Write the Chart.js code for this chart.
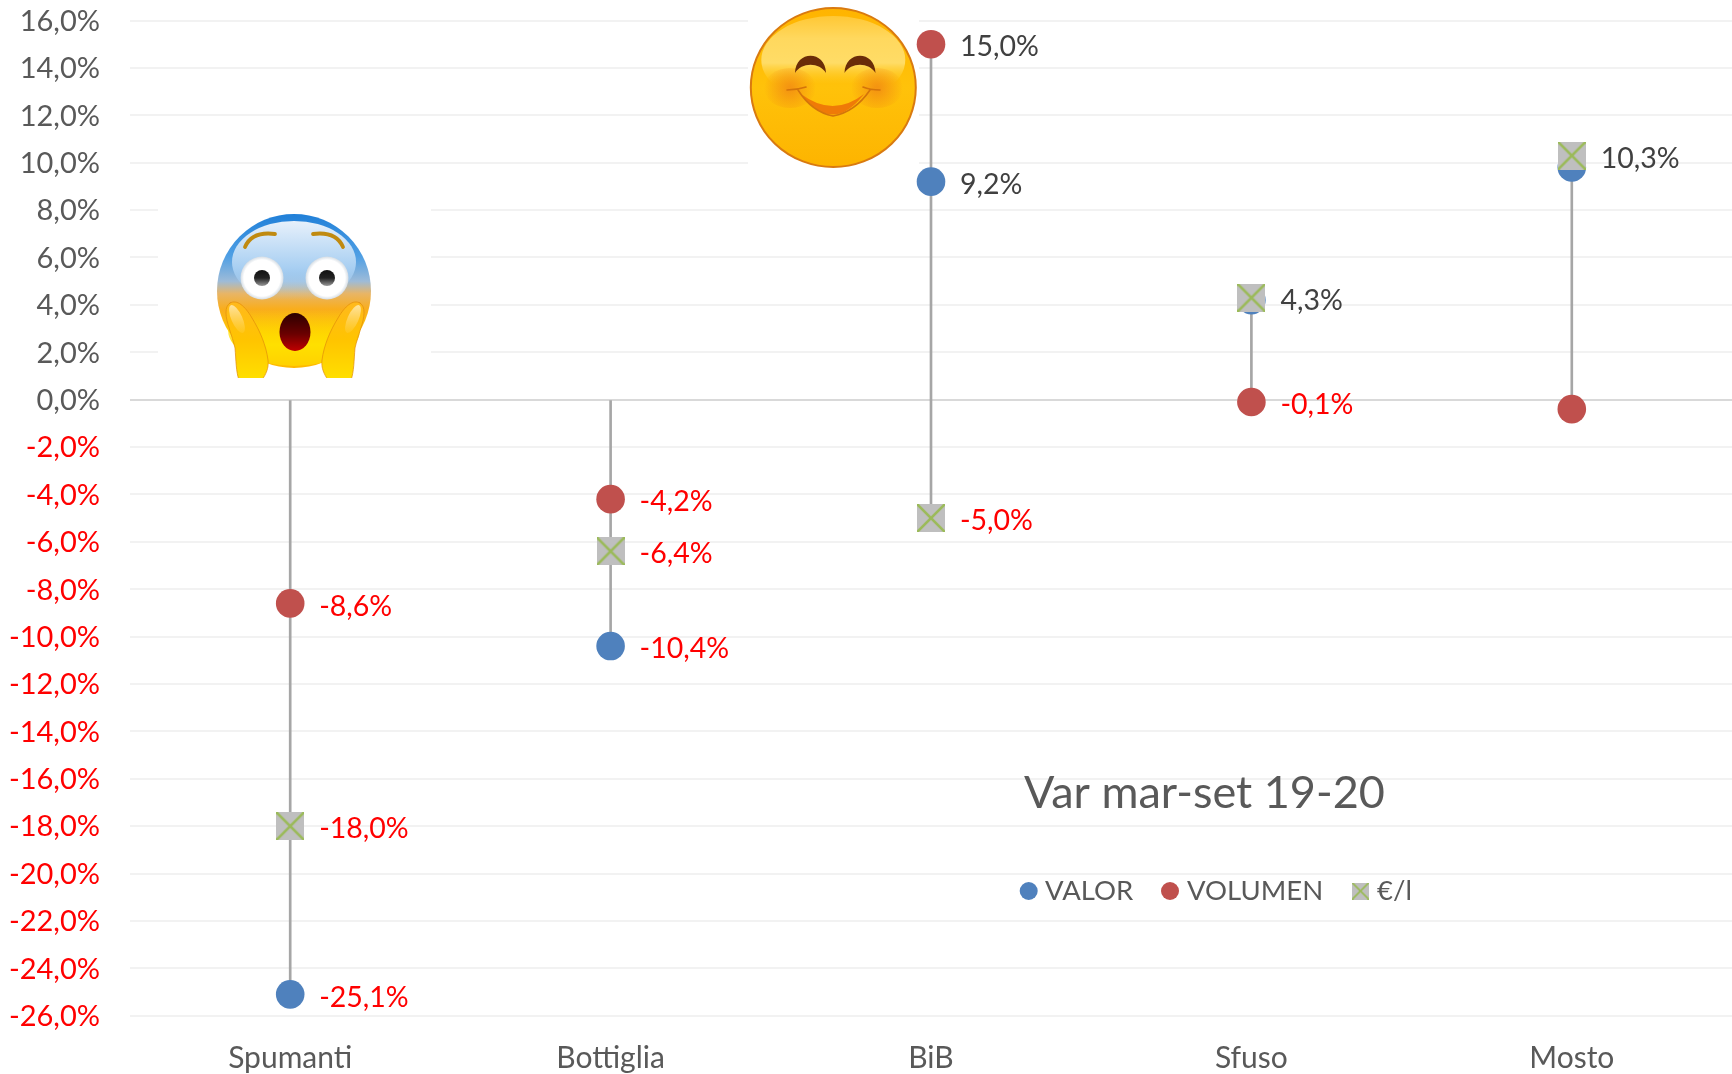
<!DOCTYPE html>
<html><head><meta charset="utf-8">
<style>html,body{margin:0;padding:0;background:#fff}canvas{display:block}</style>
<script src="https://cdn.jsdelivr.net/npm/chart.js@4"></script>
</head><body>
<canvas id="c" width="1732" height="1074"></canvas>
<script>
const categories = ['Spumanti','Bottiglia','BiB','Sfuso','Mosto'];
const valor   = [-25.1,-10.4, 9.2, 4.2, 9.8];
const volumen = [-8.6, -4.2, 15.0,-0.1,-0.4];
const euroL   = [-18.0,-6.4, -5.0, 4.3,10.3];
const stems   = [[-25.1,0],[-10.4,0],[-5,15],[-0.1,4.3],[-0.4,10.3]];
const valorLabelled   = [true,true,true,false,false];
const volumenLabelled = [true,true,true,true,false];
const euroLabelled    = [true,true,true,true,true];
const seriesNames = ['VALOR','VOLUMEN','€/l'];
const chartTitle = 'Var mar-set 19-20';

const FONT = 'Lato';
const GREY = '#595959', DARK = '#404040', RED = '#ff0000';
const BLUE = '#4f81bd', BRICK = '#c0504d', SQ = '#bfbfbf', GREEN = '#9bbb59';
const fmt = v => v.toFixed(1).replace('.',',') + '%';

function crossSquare(side){
  const k = document.createElement('canvas'); k.width = side; k.height = side;
  const g = k.getContext('2d');
  g.fillStyle = SQ; g.fillRect(0,0,side,side);
  g.strokeStyle = GREEN; g.lineWidth = side > 20 ? 2.6 : 1.8;
  g.beginPath(); g.moveTo(0,0); g.lineTo(side,side); g.moveTo(side,0); g.lineTo(0,side); g.stroke();
  return k;
}
const sqMark = crossSquare(28), sqLegend = crossSquare(17);

function scared(ctx){
  ctx.save();
  ctx.fillStyle='#fff'; ctx.fillRect(158,195,273,183);
  ctx.beginPath(); ctx.rect(158,195,273,183); ctx.clip();
  const cx=294, cy=291, r=77;
  let g=ctx.createLinearGradient(0,213,0,368);
  g.addColorStop(0,'#1f7fd8'); g.addColorStop(.28,'#4f9fe4'); g.addColorStop(.44,'#9dbbd8');
  g.addColorStop(.52,'#e8b566'); g.addColorStop(.62,'#f9ad1c'); g.addColorStop(.8,'#ffcc00'); g.addColorStop(1,'#ffb800');
  ctx.fillStyle=g; ctx.beginPath(); ctx.arc(cx,cy,r,0,Math.PI*2); ctx.fill();
  g=ctx.createLinearGradient(0,220,0,300);
  g.addColorStop(0,'#e8f1fb'); g.addColorStop(.6,'#a8cff2'); g.addColorStop(1,'rgba(168,207,242,0)');
  ctx.fillStyle=g; ctx.beginPath(); ctx.ellipse(cx,262,62,41,0,0,Math.PI*2); ctx.fill();
  g=ctx.createLinearGradient(0,310,0,368);
  g.addColorStop(0,'rgba(255,214,0,0)'); g.addColorStop(.6,'#ffe000'); g.addColorStop(1,'#ffd000');
  ctx.fillStyle=g; ctx.beginPath(); ctx.ellipse(cx,330,66,36,0,0,Math.PI*2); ctx.fill();
  // brows
  ctx.strokeStyle='#c08a10'; ctx.lineWidth=3.8; ctx.lineCap='round';
  ctx.beginPath(); ctx.moveTo(245,247); ctx.quadraticCurveTo(252,231,275,234); ctx.stroke();
  ctx.beginPath(); ctx.moveTo(343,247); ctx.quadraticCurveTo(336,231,313,234); ctx.stroke();
  // eyes
  [262,327].forEach(x=>{
    g=ctx.createRadialGradient(x,278,8,x,278,22);
    g.addColorStop(0,'#ffffff'); g.addColorStop(.72,'#ffffff'); g.addColorStop(1,'#cfd8e0');
    ctx.fillStyle=g; ctx.beginPath(); ctx.arc(x,278,21.5,0,Math.PI*2); ctx.fill();
    g=ctx.createLinearGradient(0,270,0,286);
    g.addColorStop(0,'#111'); g.addColorStop(.5,'#222'); g.addColorStop(1,'#999');
    ctx.fillStyle=g; ctx.beginPath(); ctx.arc(x,278,8,0,Math.PI*2); ctx.fill();
  });
  // mouth
  g=ctx.createLinearGradient(0,313,0,351);
  g.addColorStop(0,'#2c0000'); g.addColorStop(.55,'#6a0000'); g.addColorStop(1,'#c00000');
  ctx.fillStyle=g; ctx.beginPath(); ctx.ellipse(295,332,15.5,19,0,0,Math.PI*2); ctx.fill();
  // hands
  [1,-1].forEach(m=>{
    ctx.save();
    ctx.translate(295,0); ctx.scale(m,1); ctx.translate(-295,0);
    const hand=new Path2D('M230 303 C237 299 245 306 252 318 C260 331 266 345 268 360 C269 368 266 374 262 380 L239 380 C236 372 236 360 235 348 C232 335 226 322 226 313 C226 308 227 305 230 303 Z');
    g=ctx.createLinearGradient(0,300,0,380);
    g.addColorStop(0,'#ffb81e'); g.addColorStop(.5,'#ffc400'); g.addColorStop(1,'#ffe000');
    ctx.fillStyle=g; ctx.fill(hand);
    ctx.strokeStyle='rgba(225,140,10,.7)'; ctx.lineWidth=1; ctx.stroke(hand);
    g=ctx.createLinearGradient(0,304,0,340);
    g.addColorStop(0,'rgba(255,232,170,.95)'); g.addColorStop(1,'rgba(255,215,90,0)');
    ctx.fillStyle=g;
    ctx.beginPath(); ctx.ellipse(237,319,5.5,15,-0.42,0,Math.PI*2); ctx.fill();
    ctx.restore();
  });
  ctx.restore();
}

function smiley(ctx){
  ctx.save();
  ctx.fillStyle='#fff'; ctx.fillRect(748,0,171,172);
  const cx=833.3, cy=87.5, rx=82.5, ry=79.5;
  ctx.beginPath(); ctx.ellipse(cx,cy,rx,ry,0,0,Math.PI*2);
  let g=ctx.createLinearGradient(0,8,0,167);
  g.addColorStop(0,'#ffb400'); g.addColorStop(.5,'#ffc20a'); g.addColorStop(1,'#fdb400');
  ctx.fillStyle=g; ctx.fill();
  ctx.lineWidth=2; ctx.strokeStyle='#d97a10'; ctx.stroke();
  g=ctx.createLinearGradient(0,14,0,84);
  g.addColorStop(0,'#ffc631'); g.addColorStop(.35,'#ffd85e'); g.addColorStop(.7,'#ffdc66'); g.addColorStop(1,'rgba(255,205,40,0)');
  ctx.fillStyle=g; ctx.beginPath(); ctx.ellipse(cx,60,72,44,0,0,Math.PI*2); ctx.fill();
  // cheeks
  [790,877].forEach(x=>{
    g=ctx.createRadialGradient(x,88,2,x,88,26);
    g.addColorStop(0,'rgba(240,130,20,.7)'); g.addColorStop(1,'rgba(240,130,20,0)');
    ctx.fillStyle=g; ctx.beginPath(); ctx.ellipse(x,88,26,20,0,0,Math.PI*2); ctx.fill();
  });
  // eyes
  [810.5,860].forEach(x=>{
    ctx.beginPath();
    ctx.moveTo(x-15.5,73); ctx.bezierCurveTo(x-15,50,x+15,50,x+15.5,73);
    ctx.bezierCurveTo(x+9,62,x-9,62,x-15.5,73); ctx.closePath();
    ctx.fillStyle='#6a2c08'; ctx.fill();
  });
  // smile
  ctx.beginPath(); ctx.moveTo(801,94); ctx.quadraticCurveTo(833,135,864,94);
  ctx.quadraticCurveTo(833,118,801,94); ctx.closePath();
  ctx.fillStyle='#ef7a07'; ctx.fill();
  ctx.strokeStyle='#d4740a'; ctx.lineWidth=1.6; ctx.lineCap='round';
  ctx.beginPath(); ctx.moveTo(787,90); ctx.quadraticCurveTo(797,90,806,87); ctx.moveTo(798,90); ctx.quadraticCurveTo(812,112,833,116);
  ctx.moveTo(880,90); ctx.quadraticCurveTo(870,90,863,87); ctx.moveTo(870,90); ctx.quadraticCurveTo(855,112,833,116); ctx.stroke();
  ctx.restore();
}

const overlay = {
  id:'overlay',
  beforeDatasetsDraw(chart){ scared(chart.ctx); smiley(chart.ctx); },
  afterDatasetsDraw(chart){
    const ctx = chart.ctx;
    const y = chart.scales.y, x = chart.scales.x;
    const sets = [[valor,valorLabelled],[volumen,volumenLabelled],[euroL,euroLabelled]];
    ctx.save();
    ctx.font = '28.5px '+FONT; ctx.textBaseline='middle'; ctx.textAlign='left';
    sets.forEach(([vals,show])=>vals.forEach((v,i)=>{
      if(!show[i]) return;
      ctx.fillStyle = v<0 ? RED : DARK;
      ctx.fillText(fmt(v), x.getPixelForValue(i)+29, y.getPixelForValue(v)+3);
    }));
    // title
    ctx.fillStyle=GREY; ctx.font='45px '+FONT; ctx.textBaseline='alphabetic';
    ctx.fillText(chartTitle,1024,808);
    // legend
    ctx.font='27.5px '+FONT; ctx.textBaseline='middle';
    ctx.fillStyle=BLUE; ctx.beginPath(); ctx.arc(1028.7,891,9,0,Math.PI*2); ctx.fill();
    ctx.fillStyle=BRICK; ctx.beginPath(); ctx.arc(1170,891,9,0,Math.PI*2); ctx.fill();
    ctx.drawImage(sqLegend,1352,882.5);
    ctx.fillStyle=GREY;
    ctx.fillText(seriesNames[0],1045,891);
    ctx.fillText(seriesNames[1],1187,891);
    ctx.fillText(seriesNames[2],1377,891);
    ctx.restore();
  }
};

new Chart(document.getElementById('c'),{
  type:'bar',
  data:{labels:categories,datasets:[
    {type:'bar',label:'range',data:stems,backgroundColor:'#a6a6a6',barThickness:2,order:4},
    {type:'line',label:seriesNames[0],data:valor,showLine:false,pointStyle:'circle',pointRadius:14.3,pointBackgroundColor:BLUE,pointBorderWidth:0,clip:false,order:3},
    {type:'line',label:seriesNames[1],data:volumen,showLine:false,pointStyle:'circle',pointRadius:14.3,pointBackgroundColor:BRICK,pointBorderWidth:0,clip:false,order:2},
    {type:'line',label:seriesNames[2],data:euroL,showLine:false,pointStyle:sqMark,pointRadius:14,clip:false,order:1}
  ]},
  options:{
    responsive:false,animation:false,events:[],
    layout:{autoPadding:false,padding:{top:20.5,right:-5,left:0,bottom:0}},
    plugins:{legend:{display:false},title:{display:false},tooltip:{enabled:false}},
    scales:{
      x:{offset:true,
        afterFit(s){s.height=58.3;s.paddingLeft=0;s.paddingRight=0;},
        grid:{display:false},border:{display:false},
        ticks:{color:GREY,font:{family:FONT,size:30},padding:17,maxRotation:0}},
      y:{min:-26,max:16,
        afterFit(s){s.width=130;s.paddingTop=0;s.paddingBottom=0;},
        border:{display:false},
        grid:{drawTicks:false,lineWidth:2,color:c=>c.tick.value===0?'#d9d9d9':'#f2f2f2'},
        ticks:{stepSize:2,padding:30,labelOffset:1,font:{family:FONT,size:29},
          color:c=>c.tick.value<0?RED:GREY,
          callback:v=>fmt(v)}}
    }
  },
  plugins:[overlay]
});
</script>
</body></html>
